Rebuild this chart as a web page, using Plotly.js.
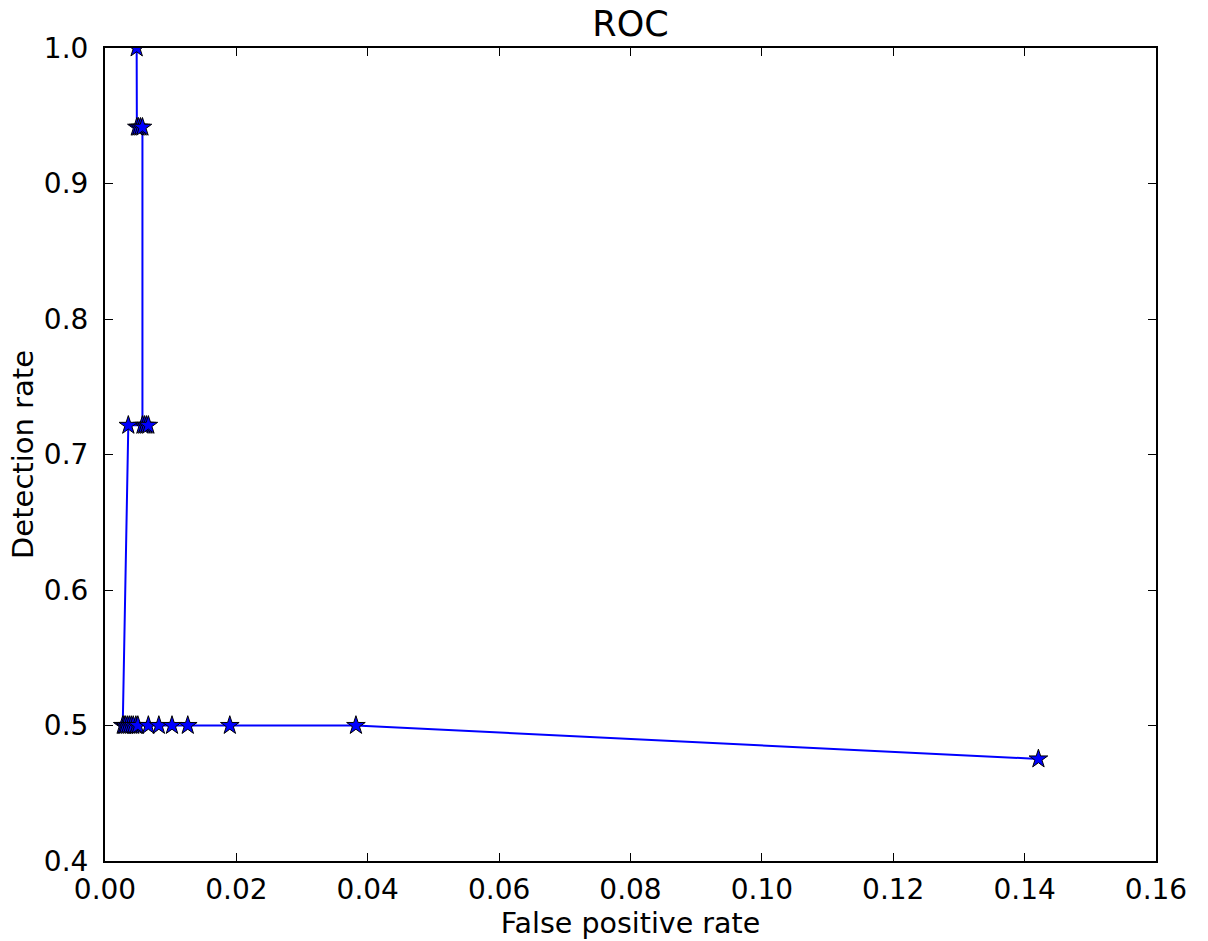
<!DOCTYPE html>
<html>
<head>
<meta charset="utf-8">
<script src="https://cdn.plot.ly/plotly-3.0.1.min.js"></script>
<style>html,body{margin:0;padding:0;background:#fff;}#chart{width:1208px;height:941px;}</style>
</head>
<body>
<div id="chart"></div>
<script>
// ROC curve points (false positive rate, detection rate), in drawing order
var falsePositiveRate = [0.00482, 0.00485, 0.0051, 0.0054, 0.0057, 0.0057, 0.0060, 0.0063, 0.0066, 0.00355,
  0.0027, 0.0029, 0.0031, 0.0034, 0.0037, 0.0040, 0.0043, 0.0047, 0.0050, 0.0066, 0.0082, 0.0102, 0.0126, 0.0190, 0.0382, 0.1421];
var detectionRate = [1.0, 0.9415, 0.9415, 0.9415, 0.9415, 0.7215, 0.7215, 0.7215, 0.7215, 0.7215,
  0.5, 0.5, 0.5, 0.5, 0.5, 0.5, 0.5, 0.5, 0.5, 0.5, 0.5, 0.5, 0.5, 0.5, 0.5, 0.4753];
var xTicks = [0.00, 0.02, 0.04, 0.06, 0.08, 0.10, 0.12, 0.14, 0.16];
var xTickLabels = ["0.00", "0.02", "0.04", "0.06", "0.08", "0.10", "0.12", "0.14", "0.16"];
var yTicks = [0.4, 0.5, 0.6, 0.7, 0.8, 0.9, 1.0];
var yTickLabels = ["0.4", "0.5", "0.6", "0.7", "0.8", "0.9", "1.0"];

var font = "DejaVu Sans, sans-serif";
var trace = {
  x: falsePositiveRate,
  y: detectionRate,
  type: "scatter",
  mode: "lines+markers",
  line: {color: "#0000ff", width: 2},
  marker: {symbol: "star", size: 14, color: "#0000ff", line: {color: "#000000", width: 1}},
  cliponaxis: true,
  hoverinfo: "x+y"
};

var axisCommon = {
  showgrid: false,
  zeroline: false,
  showline: true,
  linecolor: "#000000",
  linewidth: 2,
  mirror: "allticks",
  ticks: "inside",
  ticklen: 8,
  tickwidth: 1,
  tickcolor: "#000000",
  tickfont: {family: font, size: 28, color: "#000000"},
  tickmode: "array"
};

var layout = {
  width: 1208,
  height: 941,
  margin: {l: 105, r: 52, t: 48, b: 80},
  paper_bgcolor: "#ffffff",
  plot_bgcolor: "#ffffff",
  showlegend: false,
  title: {text: "ROC", font: {family: font, size: 35, color: "#000000"},
          xref: "paper", x: 0.5, xanchor: "center", yref: "container", y: 1 - 24/941, yanchor: "middle"},
  xaxis: Object.assign({}, axisCommon, {
    range: [0, 0.16],
    ticklabelstandoff: 2,
    tickvals: xTicks, ticktext: xTickLabels,
    title: {text: "False positive rate", font: {family: font, size: 28.5, color: "#000000"}, standoff: 8}
  }),
  yaxis: Object.assign({}, axisCommon, {
    range: [0.4, 1.0],
    ticklabelstandoff: 9,
    tickvals: yTicks, ticktext: yTickLabels,
    title: {text: "Detection rate", font: {family: font, size: 29, color: "#000000"}, standoff: 2}
  })
};

Plotly.newPlot("chart", [trace], layout, {displayModeBar: false, staticPlot: true});
</script>
</body>
</html>
